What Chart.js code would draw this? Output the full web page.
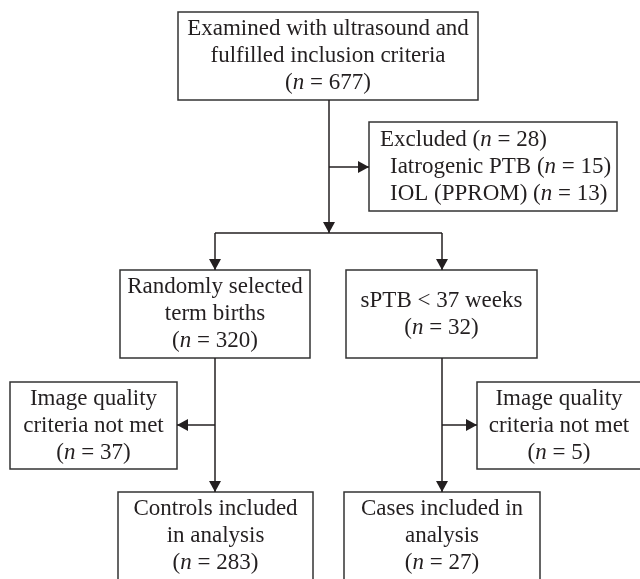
<!DOCTYPE html>
<html>
<head>
<meta charset="utf-8">
<script src="https://cdn.jsdelivr.net/npm/chart.js@4/dist/chart.umd.min.js"></script>
<style>
  html, body { margin: 0; padding: 0; background: #fff; }
  #wrap { width: 640px; height: 579px; }
</style>
</head>
<body>
<div id="wrap"><canvas id="flow" width="640" height="579"></canvas></div>
<script>
// Flow chart data
const nodeLabels = [
    ['Examined with ultrasound and', 'fulfilled inclusion criteria'],
    ['Excluded'],
    ['Randomly selected', 'term births'],
    ['sPTB < 37 weeks'],
    ['Image quality', 'criteria not met'],
    ['Image quality', 'criteria not met'],
    ['Controls included', 'in analysis'],
    ['Cases included in', 'analysis']
];
const nodeCounts = [677, 28, 320, 32, 37, 5, 283, 27];
const excludedReasons = ['Iatrogenic PTB', 'IOL (PPROM)'];
const excludedCounts = [15, 13];

// Layout (canvas units): box rectangles [x0, y0, x1, y1]
const boxes = [
    [178, 12, 478, 100],
    [369, 122, 617, 211],
    [120, 270, 310, 358],
    [346, 270, 537, 358],
    [10, 382, 177, 469],
    [477, 382, 641, 469],
    [118, 492, 313, 581],
    [344, 492, 540, 581]
];
// Connectors: [x0, y0, x1, y1, arrow?]
const links = [
    [329, 100, 329, 233, true],
    [329, 167, 369, 167, true],
    [215, 233, 442, 233, false],
    [215, 233, 215, 270, true],
    [442, 233, 442, 270, true],
    [215, 358, 215, 492, true],
    [442, 358, 442, 492, true],
    [215, 425, 177, 425, true],
    [442, 425, 477, 425, true]
];

const FONT_SIZE = 23;
const FAMILY = '"Liberation Serif", "DejaVu Serif", serif';
const INK = '#231f20';

function countParts(n) {
    return [{ t: '(', i: false }, { t: 'n', i: true }, { t: ' = ' + n + ')', i: false }];
}

function drawParts(ctx, parts, x, y, align) {
    let total = 0;
    parts.forEach(p => {
        ctx.font = (p.i ? 'italic ' : '') + FONT_SIZE + 'px ' + FAMILY;
        p.w = ctx.measureText(p.t).width;
        total += p.w;
    });
    let cx = align === 'left' ? x : x - total / 2;
    parts.forEach(p => {
        ctx.font = (p.i ? 'italic ' : '') + FONT_SIZE + 'px ' + FAMILY;
        ctx.fillText(p.t, cx, y);
        cx += p.w;
    });
}

const flowPlugin = {
    id: 'flow',
    afterDraw(chart) {
        const ctx = chart.ctx;
        const px = v => chart.scales.x.getPixelForValue(v);
        const py = v => chart.scales.y.getPixelForValue(v);
        ctx.save();
        ctx.strokeStyle = '#333';
        ctx.fillStyle = INK;
        ctx.lineWidth = 1.5;
        ctx.textBaseline = 'middle';

        // boxes
        boxes.forEach(b => {
            ctx.strokeRect(px(b[0]), py(b[1]), px(b[2]) - px(b[0]), py(b[3]) - py(b[1]));
        });

        // connectors + arrowheads
        ctx.strokeStyle = INK;
        links.forEach(l => {
            const x0 = px(l[0]), y0 = py(l[1]), x1 = px(l[2]), y1 = py(l[3]);
            ctx.beginPath();
            ctx.moveTo(x0, y0);
            ctx.lineTo(x1, y1);
            ctx.stroke();
            if (l[4]) {
                const ang = Math.atan2(y1 - y0, x1 - x0);
                const len = 11, half = 6;
                ctx.beginPath();
                ctx.moveTo(x1, y1);
                ctx.lineTo(x1 - len * Math.cos(ang) - half * Math.sin(ang), y1 - len * Math.sin(ang) + half * Math.cos(ang));
                ctx.lineTo(x1 - len * Math.cos(ang) + half * Math.sin(ang), y1 - len * Math.sin(ang) - half * Math.cos(ang));
                ctx.closePath();
                ctx.fill();
            }
        });

        // centred text boxes
        const lh = 27;
        nodeLabels.forEach((lines, k) => {
            if (k === 1) return;
            const b = boxes[k];
            const rows = lines.map(s => [{ t: s, i: false }]);
            rows.push(countParts(nodeCounts[k]));
            const cx = (px(b[0]) + px(b[2])) / 2;
            const top = k >= 6 ? py(b[1]) + 17 : (py(b[1]) + py(b[3])) / 2 - (rows.length - 1) * lh / 2;
            rows.forEach((r, j) => drawParts(ctx, r, cx, top + j * lh, 'center'));
        });

        // excluded box (left aligned)
        const eb = boxes[1];
        const ex = px(eb[0]) + 11;
        const elh = 27;
        const ey = (py(eb[1]) + py(eb[3])) / 2 - elh;
        drawParts(ctx, [{ t: nodeLabels[1][0] + ' ', i: false }].concat(countParts(nodeCounts[1])), ex, ey, 'left');
        excludedReasons.forEach((r, j) => {
            drawParts(ctx, [{ t: r + ' ', i: false }].concat(countParts(excludedCounts[j])), ex + 10, ey + (j + 1) * elh, 'left');
        });
        ctx.restore();
    }
};

new Chart(document.getElementById('flow'), {
    type: 'scatter',
    data: { datasets: [] },
    options: {
        responsive: false,
        animation: false,
        layout: { padding: 0 },
        plugins: { legend: { display: false }, tooltip: { enabled: false } },
        scales: {
            x: { type: 'linear', min: 0, max: 640, display: false },
            y: { type: 'linear', min: 0, max: 579, reverse: true, display: false }
        }
    },
    plugins: [flowPlugin]
});
</script>
</body>
</html>
